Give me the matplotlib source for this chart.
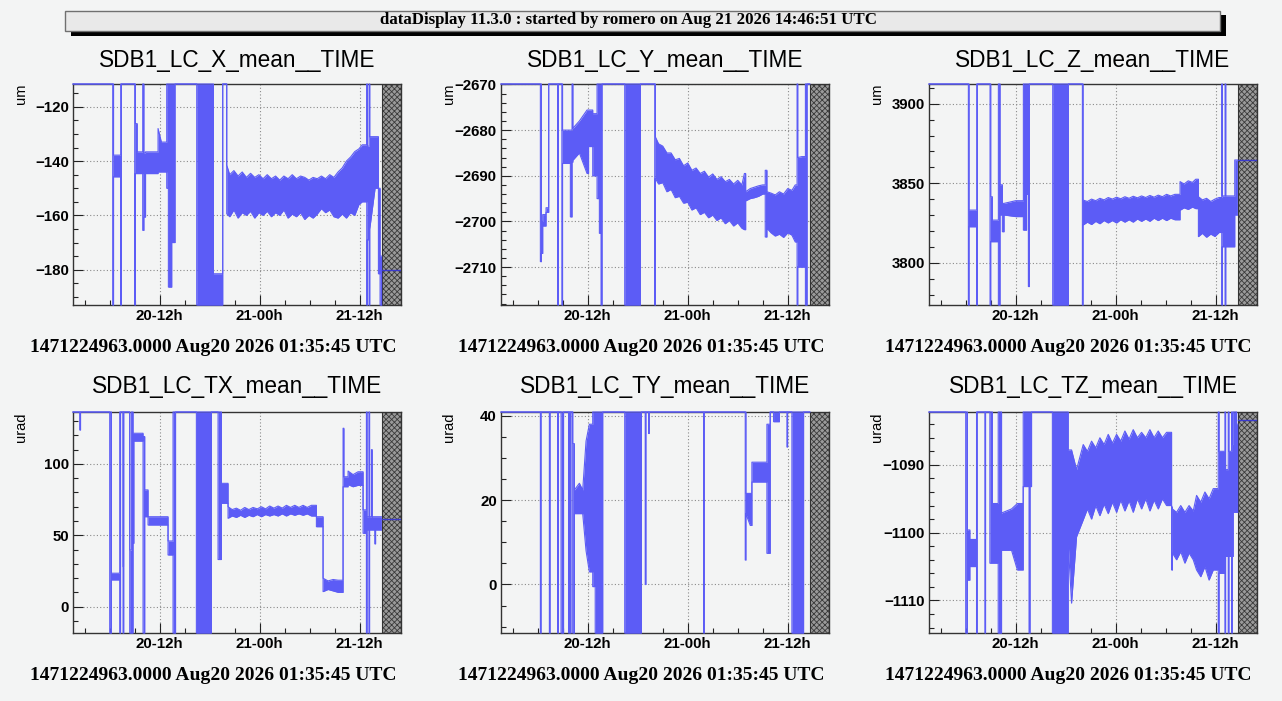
import numpy as np
import matplotlib
matplotlib.use("Agg")
import matplotlib.pyplot as plt
from matplotlib.patches import Rectangle
from matplotlib.ticker import MultipleLocator, FixedLocator

# time in hours since Aug 20 00:00 UTC; each knot holds (low, high) of the trace
# OFF marks readings that are off scale
OFF = 1.0e4

X_T = [1.60, 6.36, 6.46, 7.32, 7.40, 9.00, 9.08, 9.30, 9.96, 10.10, 10.30, 11.80, 12.20, 12.84, 13.04, 13.44,
       13.84, 16.44, 18.44, 19.56, 20.04, 20.40, 20.90, 21.40, 21.90, 22.40, 22.90, 23.40, 23.90, 24.40, 24.90,
       25.40, 25.90, 26.40, 26.90, 27.40, 27.90, 28.40, 28.90, 29.40, 29.90, 30.40, 30.90, 31.40, 31.90, 32.40,
       32.90, 33.40, 33.90, 34.40, 34.90, 35.40, 35.90, 36.30, 36.84, 36.92, 37.12, 37.20, 37.84, 38.24, 38.44,
       38.63]
X_LO = [OFF, -OFF, -145.8, -OFF, OFF, -OFF, -144.6, -144.6, -165.5, -160.6, -144.6, -144.0, -144.0, -150.0, -186.4,
        -170.0, OFF, -OFF, -OFF, OFF, -159.4, -160.5, -158.0, -161.0, -159.0, -160.0, -158.5, -161.0, -159.0, -160.0,
        -158.5, -160.5, -159.0, -160.0, -158.0, -161.0, -159.5, -160.5, -159.0, -161.5, -160.0, -161.0, -159.5,
        -157.5, -159.0, -158.0, -160.5, -161.0, -159.5, -161.0, -159.0, -160.0, -156.0, -155.0, -OFF, -169.0, -OFF,
        -165.0, -150.0, -181.5, -OFF, -OFF]
X_HI = [OFF, OFF, -137.8, OFF, OFF, OFF, -126.2, -136.6, OFF, -137.0, -136.6, -128.0, -133.0, OFF, OFF,
        OFF, OFF, OFF, -181.5, OFF, -141.5, -145.0, -143.5, -145.5, -144.0, -146.0, -144.5, -146.0, -145.0, -146.5,
        -145.0, -146.5, -145.5, -147.0, -145.5, -146.5, -145.0, -146.5, -145.5, -146.0, -147.0, -146.0, -146.5,
        -145.5, -146.5, -145.0, -146.0, -144.0, -142.5, -140.0, -138.5, -136.5, -135.5, -134.0, OFF, -134.5, OFF,
        -131.0, -131.0, -150.0, -175.0, -175.0]
X_LAST = -180.0

Y_T = [1.60, 6.32, 6.44, 6.60, 7.00, 7.32, 8.40, 8.48, 8.90, 8.98, 9.92, 10.12, 10.22, 11.00, 11.92, 12.10,
       12.60, 13.12, 13.40, 13.60, 13.72, 16.44, 18.32, 20.04, 20.12, 20.50, 21.00, 21.50, 22.00, 22.50, 23.00,
       23.50, 24.00, 24.50, 25.00, 25.50, 26.00, 26.50, 27.00, 27.50, 28.00, 28.50, 29.00, 29.50, 30.00, 30.50,
       30.80, 30.95, 31.50, 32.00, 32.50, 33.00, 33.30, 33.50, 34.00, 34.50, 35.00, 35.50, 36.00, 36.50, 36.90,
       37.12, 37.20, 37.70, 38.12, 38.32, 38.63]
Y_LO = [OFF, -2708.8, -2707.0, -2701.0, -2698.0, OFF, -OFF, OFF, -OFF, -2687.3, -2699.0, -2687.0, -2686.6, -2685.0,
        -2689.5, -2683.6, -2690.0, -2695.0, -2702.6, -OFF, OFF, -OFF, OFF, -OFF, -2690.6, -2691.8, -2691.5, -2693.5,
        -2693.0, -2694.8, -2694.5, -2696.0, -2695.8, -2697.5, -2697.0, -2698.5, -2698.0, -2699.2, -2698.6, -2699.8,
        -2699.2, -2700.5, -2699.8, -2701.0, -2700.3, -2701.5, -2701.8, -2695.5, -2695.0, -2694.8, -2694.5, -2694.0,
        -2703.4, -2701.5, -2702.5, -2703.2, -2702.8, -2703.5, -2702.5, -2703.0, -2704.5, -OFF, -2710.0, -2710.0,
        -OFF, OFF, OFF]
Y_HI = [OFF, OFF, -2700.0, -2698.5, -2697.0, OFF, OFF, OFF, OFF, -2680.0, -2680.0, OFF, -2679.6, -2678.0,
        -2675.6, -2675.6, -2676.4, OFF, OFF, OFF, OFF, OFF, OFF, OFF, -2681.5, -2683.0, -2683.5, -2685.0,
        -2685.0, -2686.5, -2686.2, -2687.8, -2687.2, -2688.8, -2688.3, -2689.5, -2689.0, -2690.3, -2689.6, -2690.8,
        -2690.2, -2691.3, -2690.8, -2691.8, -2691.0, -2692.0, -2689.5, -2693.5, -2692.8, -2692.5, -2692.2, -2692.0,
        -2688.8, -2693.5, -2693.8, -2694.2, -2693.5, -2694.0, -2692.8, -2693.2, -2692.0, OFF, -2686.0, -2685.8,
        OFF, OFF, OFF]
Y_LAST = None

Z_T = [1.60, 6.32, 6.40, 7.32, 7.40, 8.92, 9.00, 9.20, 9.92, 10.12, 10.40, 10.60, 12.00, 12.92, 13.30, 13.52,
       13.64, 16.44, 18.32, 20.00, 20.08, 20.60, 21.10, 21.60, 22.10, 22.60, 23.10, 23.60, 24.10, 24.60, 25.10,
       25.60, 26.10, 26.60, 27.10, 27.60, 28.10, 28.60, 29.10, 29.60, 30.10, 30.60, 31.10, 31.72, 32.20, 32.70,
       33.20, 33.60, 33.92, 34.40, 34.90, 35.40, 35.90, 36.40, 36.72, 36.80, 37.12, 37.20, 38.28, 38.60]
Z_LO = [OFF, -OFF, 3822.6, -OFF, OFF, -OFF, 3813.2, 3813.2, -OFF, 3830.0, 3819.5, 3830.0, 3829.0, 3820.5, 3843.0,
        3785.0, OFF, -OFF, OFF, -OFF, 3823.7, 3825.5, 3824.0, 3826.0, 3824.5, 3826.5, 3825.0, 3826.5, 3825.0, 3827.0,
        3825.5, 3827.0, 3825.5, 3827.5, 3826.0, 3827.5, 3826.0, 3828.0, 3826.5, 3828.0, 3826.5, 3828.0, 3827.0,
        3833.0, 3834.5, 3833.5, 3835.0, 3834.0, 3816.4, 3818.5, 3816.0, 3818.0, 3816.5, 3819.0, -OFF, 3810.0, -OFF,
        3810.0, 3830.0, 3830.0]
Z_HI = [OFF, OFF, 3833.1, OFF, OFF, OFF, 3841.5, 3826.8, OFF, 3849.0, 3837.3, 3837.3, 3839.0, OFF, OFF,
        OFF, OFF, OFF, OFF, OFF, 3839.4, 3838.5, 3840.0, 3839.0, 3840.5, 3839.5, 3841.0, 3840.0, 3841.2, 3840.2,
        3841.5, 3840.5, 3841.8, 3840.8, 3842.0, 3841.0, 3842.3, 3841.2, 3842.5, 3841.5, 3843.0, 3842.0, 3843.0,
        3851.0, 3849.5, 3851.5, 3850.5, 3852.5, 3841.5, 3839.5, 3840.5, 3838.5, 3840.0, 3841.0, OFF, 3842.0, OFF,
        3842.0, 3864.6, 3864.6]
Z_LAST = 3864.6

TX_T = [1.60, 2.40, 2.50, 6.00, 6.20, 7.20, 7.30, 7.60, 7.68, 8.40, 8.60, 8.80, 8.90, 10.00, 10.20, 10.60,
        13.00, 13.60, 13.90, 16.40, 18.20, 19.00, 19.40, 20.20, 20.70, 21.20, 21.70, 22.20, 22.70, 23.20, 23.70,
        24.20, 24.70, 25.20, 25.70, 26.20, 26.70, 27.20, 27.70, 28.20, 28.70, 29.20, 29.70, 30.20, 30.80, 31.60,
        32.20, 32.80, 33.40, 34.00, 34.10, 34.60, 35.20, 35.80, 36.40, 36.80, 36.88, 37.10, 37.18, 37.40, 37.50,
        37.80, 37.90, 38.60]
TX_LO = [OFF, 123.8, OFF, -OFF, 18.7, -OFF, OFF, -OFF, OFF, -OFF, -OFF, 44.4, 116.0, -OFF, 63.0, 57.2,
         36.2, -OFF, OFF, -OFF, OFF, 33.0, 72.4, 61.9, 63.5, 62.5, 64.0, 62.5, 64.0, 63.0, 64.5,
         63.0, 64.5, 63.5, 64.5, 63.5, 65.0, 63.5, 65.0, 64.0, 65.0, 64.0, 65.0, 63.5, 56.0, 10.5,
         12.0, 11.0, 10.0, 84.0, 84.0, 85.5, 84.0, 85.0, 51.4, -OFF, 53.7, -OFF, 53.7, 53.7, 53.7,
         44.0, 53.7, 53.7]
TX_HI = [OFF, OFF, OFF, OFF, 23.4, OFF, OFF, 28.0, OFF, 39.7, OFF, 121.5, 121.5, 119.2, 81.8, 63.0,
         46.0, OFF, OFF, OFF, OFF, OFF, 86.4, 70.0, 68.0, 69.0, 67.5, 69.5, 68.0, 69.5, 68.5,
         70.0, 68.5, 70.5, 69.0, 70.5, 69.0, 71.0, 69.5, 71.0, 69.5, 71.0, 69.5, 71.0, 63.0, 19.9,
         18.0, 19.0, 18.5, 125.0, 91.0, 95.0, 92.5, 94.5, 67.8, OFF, 63.0, OFF, 63.0, 110.0, 63.0,
         63.0, 63.0, 63.0]
TX_LAST = 61.2

TY_T = [1.60, 6.32, 6.40, 7.40, 7.48, 8.40, 8.48, 8.80, 9.10, 9.70, 9.78, 9.90, 9.98, 10.20, 10.40, 11.00,
        11.40, 11.80, 12.20, 12.60, 12.90, 13.80, 16.44, 18.44, 18.90, 18.98, 19.30, 19.38, 25.90, 25.98, 30.90,
        30.98, 31.50, 31.70, 33.50, 33.90, 34.30, 35.00, 35.90, 35.98, 36.50, 37.90, 38.64]
TY_LO = [OFF, -OFF, OFF, -OFF, OFF, -OFF, OFF, -OFF, OFF, -OFF, OFF, -OFF, OFF, -OFF, 16.8, 16.8,
         16.8, 8.0, 3.0, -0.5, -OFF, OFF, -OFF, OFF, 0.0, OFF, 35.8, OFF, -OFF, OFF, 5.8,
         16.8, 14.0, 24.3, 7.4, OFF, 38.6, OFF, 32.6, OFF, -OFF, OFF, OFF]
TY_HI = [OFF, OFF, OFF, OFF, OFF, OFF, OFF, OFF, OFF, OFF, OFF, OFF, OFF, 33.4, 22.4, 24.0,
         22.4, 34.0, 38.0, OFF, OFF, OFF, OFF, OFF, OFF, OFF, OFF, OFF, OFF, OFF, OFF,
         21.6, 21.6, 29.0, 38.0, OFF, OFF, OFF, OFF, OFF, OFF, OFF, OFF]
TY_LAST = None

TZ_T = [1.60, 6.00, 6.20, 6.50, 7.30, 7.38, 8.30, 8.38, 8.90, 9.20, 9.90, 10.30, 11.50, 12.20, 12.90, 13.60,
        13.72, 13.90, 16.40, 18.30, 18.70, 19.30, 20.10, 20.60, 21.10, 21.60, 22.10, 22.60, 23.10, 23.60, 24.10,
        24.60, 25.10, 25.60, 26.10, 26.60, 27.10, 27.60, 28.10, 28.60, 29.10, 29.60, 30.10, 30.70, 30.80, 31.30,
        31.80, 32.30, 32.80, 33.30, 33.70, 34.20, 34.70, 35.20, 35.70, 36.30, 36.40, 37.10, 37.18, 37.50, 37.58,
        37.90, 37.98, 38.10, 38.50, 38.64]
TZ_LO = [OFF, -OFF, -1107.0, -1105.0, -OFF, OFF, -OFF, OFF, -1104.5, -1104.5, -OFF, -1102.6, -1102.6, -1105.5,
         -1093.2, -OFF, -1093.2, OFF, -OFF, -1101.6, -1110.4, -1100.6, -1098.1, -1096.5, -1098.0, -1096.0, -1097.5,
         -1095.8, -1097.2, -1095.5, -1097.0, -1095.2, -1096.8, -1095.3, -1097.0, -1095.0, -1096.5, -1095.0,
         -1096.8, -1095.2, -1096.5, -1095.0, -1096.0, -1105.5, -1103.0, -1104.0, -1102.8, -1104.5, -1103.0,
         -1104.0, -1105.5, -1106.5, -1105.0, -1107.0, -1105.5, -OFF, -1106.0, -OFF, -1103.5, -OFF, -1103.5, -OFF,
         -1103.5, -1097.0, -1097.0, -1097.0]
TZ_HI = [OFF, OFF, -1099.6, -1101.0, OFF, OFF, OFF, OFF, OFF, -1095.7, OFF, -1097.1, -1096.5, -1095.7,
         OFF, OFF, OFF, OFF, OFF, -1087.8, -1087.8, -1090.7, -1087.0, -1088.0, -1086.5, -1087.5, -1086.0,
         -1087.0, -1085.5, -1086.8, -1085.5, -1086.5, -1085.0, -1086.2, -1084.8, -1086.0, -1085.2, -1086.0,
         -1084.8, -1086.0, -1085.0, -1086.0, -1085.2, -1096.2, -1096.5, -1097.0, -1096.0, -1097.0, -1096.0,
         -1096.8, -1094.5, -1095.5, -1094.0, -1095.0, -1093.5, OFF, -1088.0, OFF, -1090.7, OFF, -1088.0, OFF,
         -1087.0, OFF, -1084.0, -1084.0]
TZ_LAST = -1083.4

TITLES = ["SDB1_LC_X_mean__TIME", "SDB1_LC_Y_mean__TIME", "SDB1_LC_Z_mean__TIME",
          "SDB1_LC_TX_mean__TIME", "SDB1_LC_TY_mean__TIME", "SDB1_LC_TZ_mean__TIME"]
UNITS = ["um", "um", "um", "urad", "urad", "urad"]
XTICKS = [12, 24, 36]
XLABELS = ["20-12h", "21-00h", "21-12h"]
FOOTER = "1471224963.0000 Aug20 2026 01:35:45 UTC"
HEADER = "dataDisplay 11.3.0 : started by romero on Aug 21 2026 14:46:51 UTC"
T_START, T_END, NO_DATA = 1.596, 40.95, 38.63

series = [(X_T, X_LO, X_HI, X_LAST), (Y_T, Y_LO, Y_HI, Y_LAST), (Z_T, Z_LO, Z_HI, Z_LAST),
          (TX_T, TX_LO, TX_HI, TX_LAST), (TY_T, TY_LO, TY_HI, TY_LAST), (TZ_T, TZ_LO, TZ_HI, TZ_LAST)]
ylims = [(-193.0, -111.6), (-2718.3, -2669.9), (3773.4, 3912.4),
         (-18.5, 136.4), (-11.5, 40.9), (-1114.8, -1082.2)]
steps = [(20, 5), (10, 2), (50, 10), (50, 10), (20, 5), (10, 2)]

W, H = 1282, 701
BG = "#f3f4f4"
BLUE = "#5c5cf6"
plt.rcParams["hatch.linewidth"] = 0.6
plt.rcParams["hatch.color"] = "#3a3a3a"


def trace(t, lo, hi):
    # jumps (off-scale readings, short spikes, level changes) are held; slow drifts are joined
    tt, ll, hh = [], [], []
    for i in range(len(t)):
        tt.append(t[i]); ll.append(lo[i]); hh.append(hi[i])
        if i + 1 < len(t):
            inside = max(abs(lo[i]), abs(hi[i]), abs(lo[i + 1]), abs(hi[i + 1])) < OFF
            jump = abs(lo[i + 1] + hi[i + 1] - lo[i] - hi[i]) / 2
            smooth = inside and t[i + 1] - t[i] >= 0.3 and jump < 0.35 * (hi[i] - lo[i])
            if not smooth:
                tt.append(t[i + 1]); ll.append(lo[i]); hh.append(hi[i])
    return np.array(tt), np.array(ll), np.array(hh)


fig = plt.figure(figsize=(W / 100, H / 100), dpi=100, facecolor=BG)

# header box with its shadow
fig.patches.append(Rectangle((71 / W, 1 - 35.5 / H), 1155 / W, 20 / H, transform=fig.transFigure,
                             facecolor="black", edgecolor="none"))
fig.patches.append(Rectangle((65 / W, 1 - 31 / H), 1155 / W, 20 / H, transform=fig.transFigure,
                             facecolor="#e9e9e9", edgecolor="#707070", lw=1))
fig.text(628 / W, 1 - 20 / H, HEADER, ha="center", va="center", family="Liberation Serif",
         weight="bold", fontsize=12.2)

lefts = [73, 501, 929]
tops = [84, 412]
pad_centers = [213.7, 641, 1068]
footer_y = [348, 675]

for i, (t, lo, hi, last) in enumerate(series):
    r, c = divmod(i, 3)
    x0, y0 = lefts[c], tops[r]
    ax = fig.add_axes([x0 / W, 1 - (y0 + 221) / H, 328 / W, 221 / H])
    ax.set_facecolor(BG)
    ymin, ymax = ylims[i]
    tt, ll, hh = trace(t, lo, hi)
    ll = np.clip(ll, ymin, ymax)
    hh = np.clip(hh, ymin, ymax)
    ax.fill_between(tt, ll, hh, color=BLUE, lw=0, zorder=3)
    ax.plot(tt, hh, color=BLUE, lw=0.8, zorder=3, clip_on=False)
    ax.plot(tt, ll, color=BLUE, lw=0.8, zorder=3, clip_on=False)
    ax.axvspan(NO_DATA, T_END, facecolor="#9a9a9a", edgecolor="#3a3a3a", hatch="xxxxxx", lw=0, zorder=1.5)
    ax.axvline(NO_DATA, color="#333333", lw=0.8, zorder=1.6)
    if last is not None:
        ax.plot([NO_DATA, T_END], [last, last], color="#3a3acb", lw=1, zorder=3.5)
    ax.set_xlim(T_START, T_END)
    ax.set_ylim(ymin, ymax)
    ax.xaxis.set_major_locator(FixedLocator(XTICKS))
    ax.set_xticklabels(XLABELS)
    ax.xaxis.set_minor_locator(MultipleLocator(3))
    ax.yaxis.set_major_locator(MultipleLocator(steps[i][0]))
    ax.yaxis.set_minor_locator(MultipleLocator(steps[i][1]))
    ax.tick_params(which="both", direction="in", colors="#222222", labelcolor="black")
    ax.tick_params(which="major", length=7, width=0.8, pad=3)
    ax.tick_params(which="minor", length=3.5, width=0.8)
    for lab in ax.get_xticklabels() + ax.get_yticklabels():
        lab.set_family("Liberation Sans")
        lab.set_weight("bold")
        lab.set_fontsize(10.8)
    ax.grid(True, which="major", ls=(0, (1, 2)), color="#8a8a8a", lw=0.8)
    ax.set_axisbelow(True)
    for s in ax.spines.values():
        s.set_color("#333333")
        s.set_linewidth(1.0)
        s.set_zorder(2.5)

    fig.text((x0 + 164) / W, 1 - (60 + r * 326) / H, TITLES[i], ha="center", va="center",
             family="Liberation Sans", fontsize=16.3)
    fig.text((x0 - 52) / W, 1 - y0 / H, UNITS[i], ha="center", va="top", rotation=90,
             family="Liberation Sans", fontsize=10.5)
    fig.text(pad_centers[c] / W, 1 - footer_y[r] / H, FOOTER, ha="center", va="center",
             family="Liberation Serif", weight="bold", fontsize=14)

fig.savefig("out.png", dpi=100, facecolor=BG)
